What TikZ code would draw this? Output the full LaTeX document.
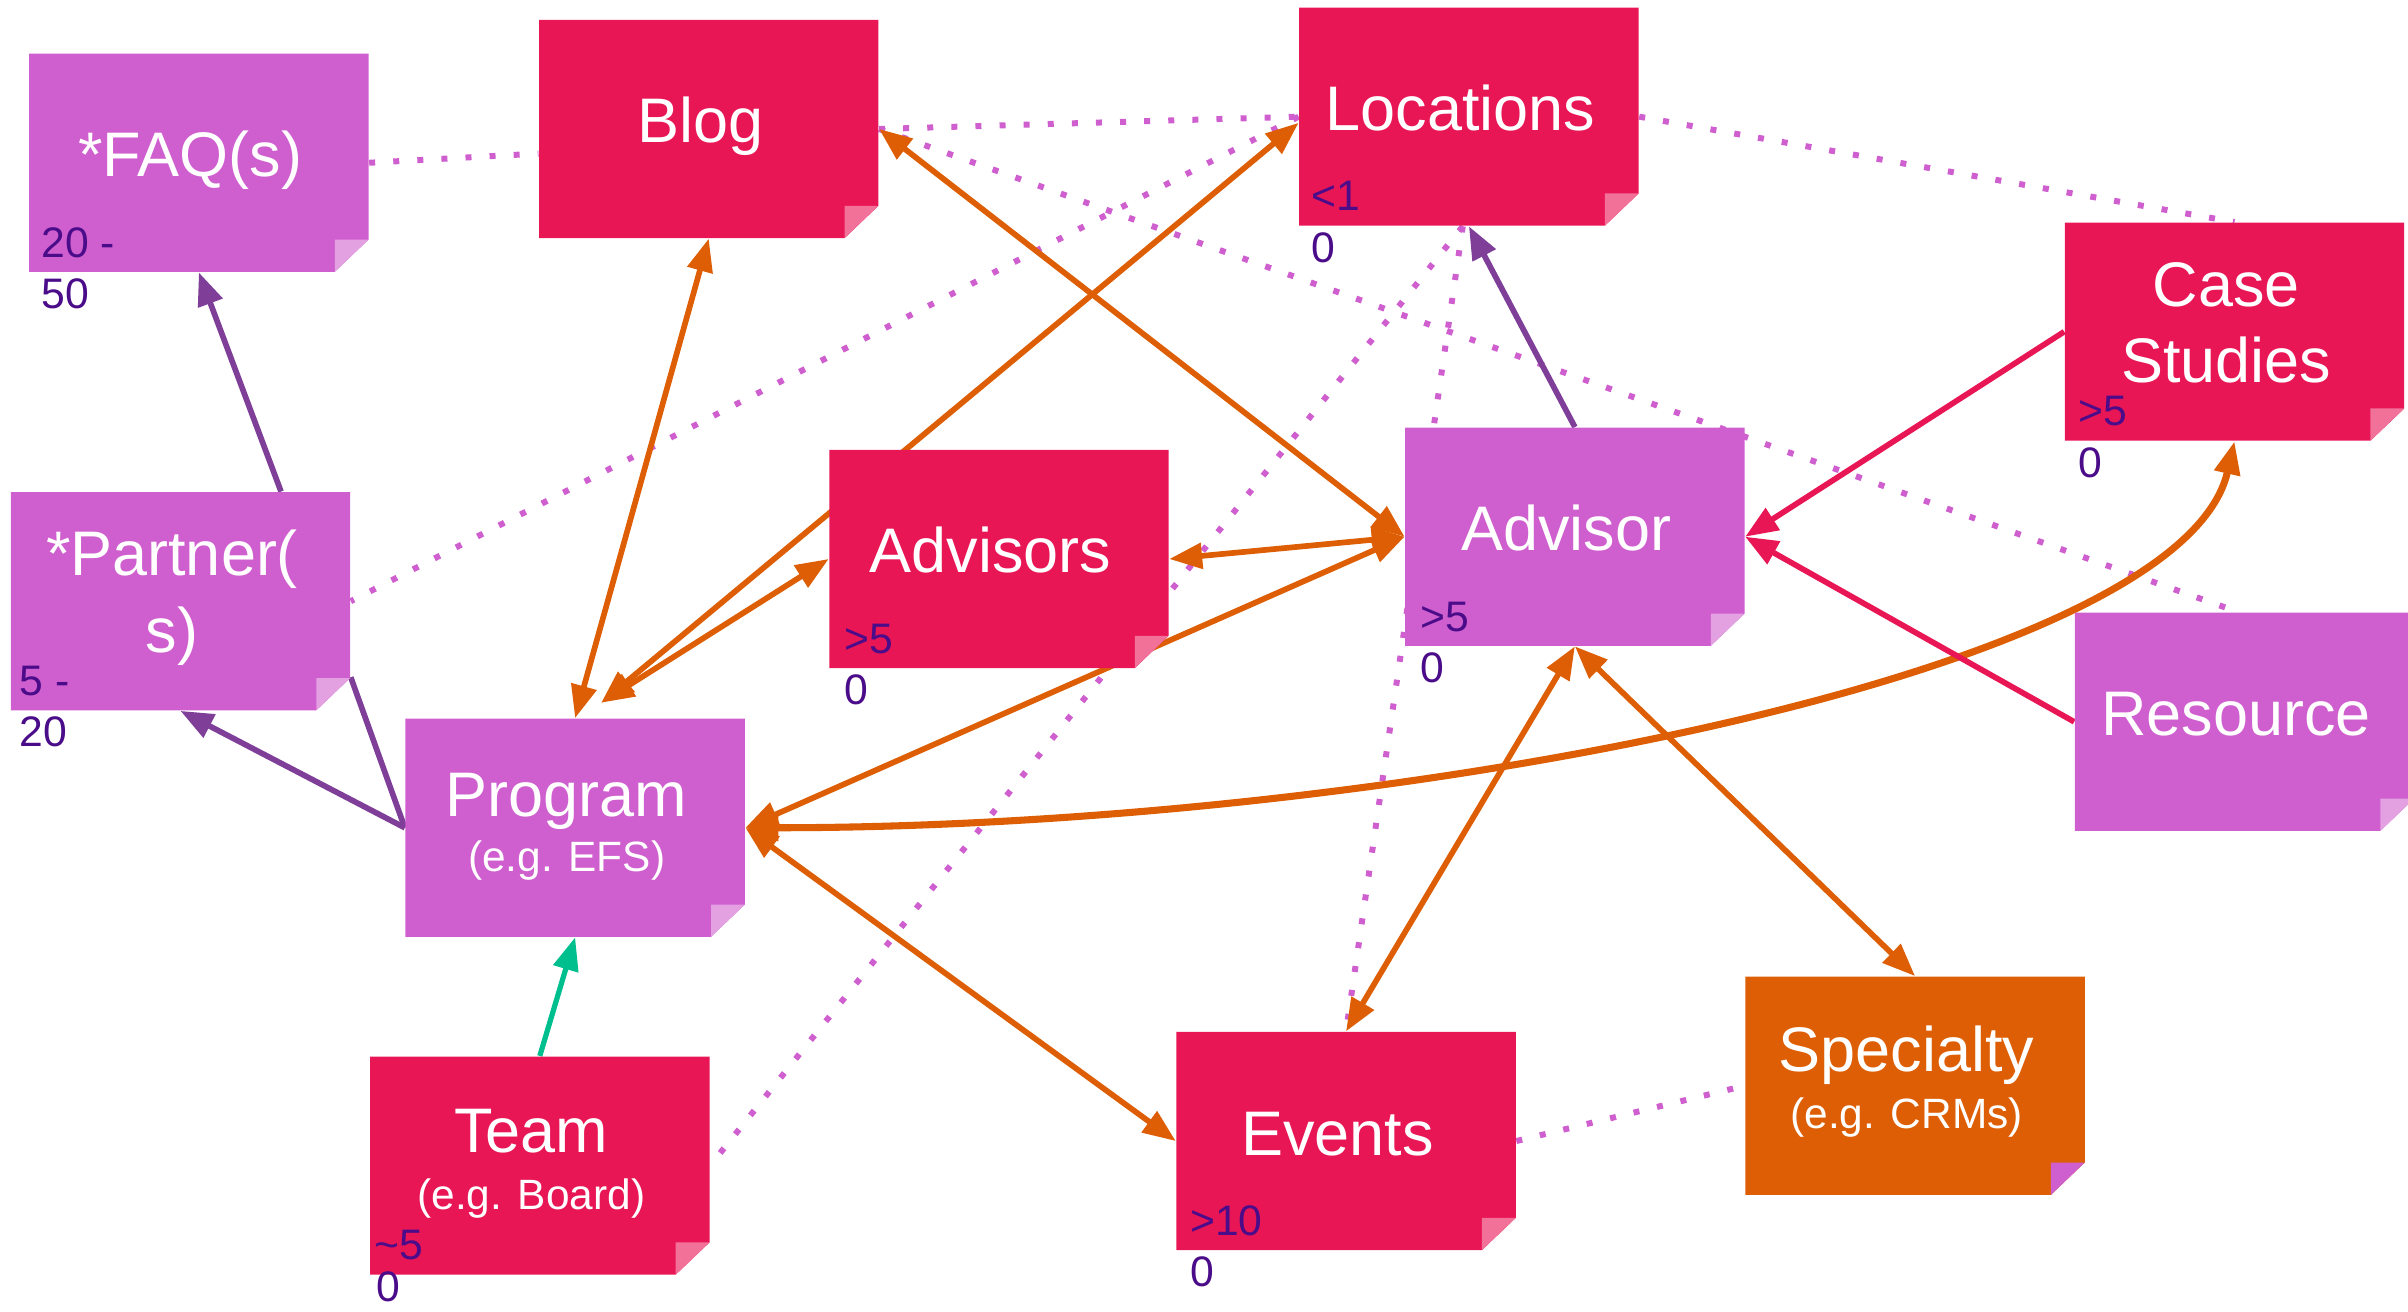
\documentclass[tikz,border=0pt]{standalone}
\usepackage{fontspec}
\setmainfont{Liberation Sans}
\usetikzlibrary{arrows.meta,calc}
\definecolor{orchid}{HTML}{CF5ECE}
\definecolor{crim}{HTML}{E91656}
\definecolor{orng}{HTML}{DD5E04}
\definecolor{purp}{HTML}{7F3F98}
\definecolor{tealx}{HTML}{00BF8F}
\definecolor{indig}{HTML}{4B0C8A}
\definecolor{foldred}{HTML}{F27199}
\definecolor{foldorch}{HTML}{E3A1E2}
\pgfdeclarelayer{background}
\pgfsetlayers{background,main}
\tikzset{
 card/.style 2 args={rectangle, inner sep=0pt, minimum width=110.5pt, minimum height=71pt,
   path picture={
     \fill[#1] (path picture bounding box.north west) -- (path picture bounding box.north east)
        -- ([yshift=10.5pt]path picture bounding box.south east)
        -- ([xshift=-11pt]path picture bounding box.south east)
        -- (path picture bounding box.south west) -- cycle;
     \fill[#2] ([xshift=-11pt,yshift=10.5pt]path picture bounding box.south east)
        -- ([yshift=10.5pt]path picture bounding box.south east)
        -- ([xshift=-11pt]path picture bounding box.south east) -- cycle;
   }},
 redcard/.style={card={crim}{foldred}},
 orchcard/.style={card={orchid}{foldorch}},
 orngcard/.style={card={orng}{orchid}},
 maintext/.style={inner sep=0pt, text=white, font=\fontsize{20.5pt}{25pt}\selectfont, anchor=base},
 subtext/.style={inner sep=0pt, text=white, font=\fontsize{13.8pt}{16pt}\selectfont, anchor=base},
 count/.style={inner sep=0pt, text=indig, font=\fontsize{13.9pt}{16pt}\selectfont, anchor=base west},
 dots/.style={draw=orchid, line width=1.95pt, dash pattern=on 1.95pt off 5.9pt},
 >={Triangle[length=10.7pt,width=8.2pt]},
 olink/.style={draw=orng, line width=1.85pt},
 plink/.style={draw=purp, line width=1.85pt},
 rlink/.style={draw=crim, line width=1.85pt},
 tlink/.style={draw=tealx, line width=1.7pt},
}
\begin{document}
\begin{tikzpicture}[x=0.5pt,y=-0.5pt]
\useasboundingbox (0,0) rectangle (1568,854);
% cards
\node[orchcard] (faq) at (129.5,106) {};
\node[redcard] (blog) at (461.5,84) {};
\node[redcard] (loc) at (956.5,76) {};
\node[redcard] (case) at (1455,216) {};
\node[orchcard] (partner) at (117.5,391.5) {};
\node[redcard] (advisors) at (650.5,364) {};
\node[orchcard] (advisor) at (1025.5,349.5) {};
\node[orchcard] (res) at (1461.5,470) {};
\node[orchcard] (prog) at (374.5,539) {};
\node[redcard] (team) at (351.5,759) {};
\node[redcard] (events) at (876.5,743) {};
\node[orngcard] (spec) at (1247,707) {};
% main texts
\node[maintext] (faqT) at ([shift={(-5.5,80.5)}]faq.north) {*FAQ(s)};
\node[maintext] (blogT) at ([shift={(-5.5,80.5)}]blog.north) {Blog};
\node[maintext] (locT) at ([shift={(-5.5,80.5)}]loc.north) {Locations};
\node[maintext] (caseT1) at ([shift={(-5.5,55)}]case.north) {Case};
\node[maintext] (caseT2) at ([shift={(-5.5,104.5)}]case.north) {Studies};
\node[maintext] (partT1) at ([shift={(-5.5,54.6)}]partner.north) {*Partner(};
\node[maintext] (partT2) at ([shift={(-5.5,104.5)}]partner.north) {s)};
\node[maintext] (advsT) at ([shift={(-5.5,80.5)}]advisors.north) {Advisors};
\node[maintext] (advT) at ([shift={(-5.5,80.5)}]advisor.north) {Advisor};
\node[maintext] (resT) at ([shift={(-5.5,80.5)}]res.north) {Resource};
\node[maintext] (progT1) at ([shift={(-5.5,64)}]prog.north) {Program};
\node[subtext] (progT2) at ([shift={(-5.5,100)}]prog.north) {(e.g. EFS)};
\node[maintext] (teamT1) at ([shift={(-5.5,63)}]team.north) {Team};
\node[subtext] (teamT2) at ([shift={(-5.5,100)}]team.north) {(e.g. Board)};
\node[maintext] (evT) at ([shift={(-5.5,80.5)}]events.north) {Events};
\node[maintext] (specT1) at ([shift={(-5.5,62)}]spec.north) {Specialty};
\node[subtext] (specT2) at ([shift={(-5.5,99)}]spec.north) {(e.g. CRMs)};
% counts
\node[count] (faqC1) at ([shift={(8,-10)}]faq.south west) {20 -};
\node[count] (faqC2) at ([shift={(8,23.5)}]faq.south west) {50};
\node[count] (partC1) at ([shift={(6,-10)}]partner.south west) {5 -};
\node[count] (partC2) at ([shift={(6,23.5)}]partner.south west) {20};
\node[count] (locC1) at ([shift={(8,-10)}]loc.south west) {<1};
\node[count] (locC2) at ([shift={(8,23.5)}]loc.south west) {0};
\node[count] (caseC1) at ([shift={(9,-10)}]case.south west) {>5};
\node[count] (caseC2) at ([shift={(9,23.5)}]case.south west) {0};
\node[count] (advsC1) at ([shift={(10,-10)}]advisors.south west) {>5};
\node[count] (advsC2) at ([shift={(10,23.5)}]advisors.south west) {0};
\node[count] (advC1) at ([shift={(10,-10)}]advisor.south west) {>5};
\node[count] (advC2) at ([shift={(10,23.5)}]advisor.south west) {0};
\node[count] (teamC1) at ([shift={(3,-10)}]team.south west) {\textasciitilde5};
\node[count] (teamC2) at ([shift={(4,17)}]team.south west) {0};
\node[count] (evC1) at ([shift={(9,-10)}]events.south west) {>10};
\node[count] (evC2) at ([shift={(9,23.5)}]events.south west) {0};
\coordinate (progTR) at ([shift={(17,-10)}]prog.north);
\begin{pgfonlayer}{background}
% dotted relations
\draw[dots] (faq.east) -- ([shift={(0,16)}]blog.west);
\draw[dots] (blog.east) -- (loc.west);
\draw[dots] (blog.east) -- ([shift={(-4,0)}]res.north);
\draw[dots] (loc.west) -- (partner.east);
\draw[dots] ([shift={(-4,0)}]loc.south) -- (team.east);
\draw[dots] ([shift={(-4,0)}]loc.south) -- (events.north);
\draw[dots] (loc.east) -- (case.north);
\draw[dots] (events.east) -- (spec.west);
% orange
\draw[olink,<->] (prog.north) -- (blog.south);
\draw[olink,<->] (progTR) -- ([shift={(0,4)}]loc.west);
\draw[olink,<->] (progTR) -- (advisors.west);
\draw[olink,<->] (advisors.east) -- (advisor.west);
\draw[olink,<->] (blog.east) -- (advisor.west);
\draw[olink,<->] (prog.east) -- (advisor.west);
\draw[olink,<->] (prog.east) -- (events.west);
\draw[olink,<->,line width=2.3pt] (prog.east) .. controls (900,539) and (1420,440) .. (case.south);
\draw[olink,<->] (advisor.south) -- (events.north);
\draw[olink,<->] (advisor.south) -- (spec.north);
% purple
\draw[plink,->] ([shift={(65.5,0)}]partner.north) -- (faq.south);
\draw[plink,->] (prog.west) -- (partner.south);
\draw[plink] (prog.west) -- ([shift={(0,49.5)}]partner.east);
\draw[plink,->] (advisor.north) -- (loc.south);
% crimson
\draw[rlink,->] (case.west) -- (advisor.east);
\draw[rlink,->] (res.west) -- (advisor.east);
% teal
\draw[tlink,->] (team.north) -- (prog.south);
\end{pgfonlayer}
\end{tikzpicture}
\end{document}
